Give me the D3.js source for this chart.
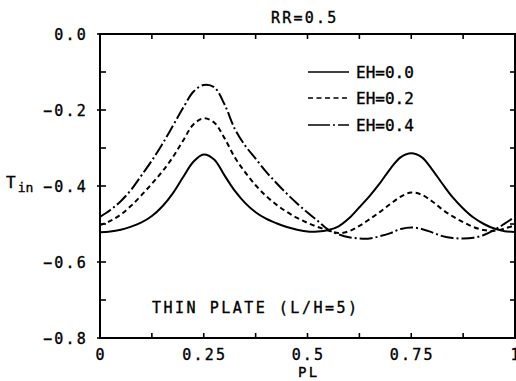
<!DOCTYPE html>
<html>
<head>
<meta charset="utf-8">
<script src="https://cdn.jsdelivr.net/npm/d3@7"></script>
<style>
  body { margin: 0; background: #fff; }
  svg { display: block; }
  text { font-family: "DejaVu Sans Mono", monospace; fill: #000; stroke: #000; stroke-width: 0.35px; }
</style>
</head>
<body>
<svg id="chart" width="516" height="381"></svg>
<script>
// PL positions, read every 0.025
const pl = [0, 0.025, 0.05, 0.075, 0.1, 0.125, 0.15, 0.175, 0.2, 0.225,
  0.25, 0.275, 0.3, 0.325, 0.35, 0.375, 0.4, 0.425, 0.45, 0.475,
  0.5, 0.525, 0.55, 0.575, 0.6, 0.625, 0.65, 0.675, 0.7, 0.725,
  0.75, 0.775, 0.8, 0.825, 0.85, 0.875, 0.9, 0.925, 0.95, 0.975, 1]

const eh00 = [-0.522, -0.520, -0.515, -0.507, -0.496, -0.479, -0.454, -0.420, -0.377, -0.336,
  -0.317, -0.330, -0.372, -0.413, -0.445, -0.469, -0.486, -0.498, -0.508, -0.515,
  -0.520, -0.520, -0.516, -0.506, -0.485, -0.456, -0.426, -0.392, -0.354, -0.324,
  -0.314, -0.324, -0.356, -0.394, -0.430, -0.459, -0.483, -0.500, -0.512, -0.519, -0.521]

const eh02 = [-0.503, -0.492, -0.475, -0.452, -0.424, -0.394, -0.362, -0.325, -0.281, -0.238,
  -0.222, -0.233, -0.274, -0.325, -0.364, -0.398, -0.426, -0.449, -0.468, -0.484,
  -0.497, -0.508, -0.517, -0.524, -0.519, -0.505, -0.487, -0.468, -0.447, -0.428,
  -0.417, -0.423, -0.440, -0.462, -0.480, -0.495, -0.508, -0.516, -0.518, -0.512, -0.503]

const eh04 = [-0.481, -0.463, -0.440, -0.410, -0.372, -0.333, -0.290, -0.243, -0.195, -0.152,
  -0.134, -0.140, -0.185, -0.250, -0.294, -0.328, -0.362, -0.392, -0.420, -0.446,
  -0.470, -0.492, -0.515, -0.527, -0.535, -0.538, -0.538, -0.532, -0.524, -0.513,
  -0.509, -0.513, -0.522, -0.532, -0.537, -0.538, -0.536, -0.529, -0.516, -0.499, -0.481]

const seriesNames = ['EH=0.0', 'EH=0.2', 'EH=0.4']
const xTickLabels = ['0', '0.25', '0.5', '0.75', '1']
const yTickLabels = ['0.0', '\u22120.2', '\u22120.4', '\u22120.6', '\u22120.8']

const xMajor = [0, 0.25, 0.5, 0.75, 1]
const xMinor = d3.range(0, 1.0001, 0.125)
const yMajor = [0, -0.2, -0.4, -0.6, -0.8]
const yMinor = d3.range(0, -0.8001, -0.1)

const svg = d3.select('#chart')

const x = d3.scaleLinear().domain([0, 1]).range([100, 515])
const y = d3.scaleLinear().domain([-0.8, 0]).range([338, 34])

const dashes = [null, '5,3.5', '13,3,2,3']
const series = [eh00, eh02, eh04]

// frame
svg.append('rect')
  .attr('x', x(0)).attr('y', y(0))
  .attr('width', x(1) - x(0)).attr('height', y(-0.8) - y(0))
  .attr('fill', 'none').attr('stroke', '#000').attr('stroke-width', 2)

// ticks, all pointing into the plot
const ticks = svg.append('g').attr('stroke', '#000').attr('stroke-width', 1.6)
ticks.selectAll('.tb').data(xMinor).join('line')
  .attr('x1', d => x(d)).attr('x2', d => x(d))
  .attr('y1', y(-0.8)).attr('y2', y(-0.8) - 5)
ticks.selectAll('.tt').data(xMinor).join('line')
  .attr('x1', d => x(d)).attr('x2', d => x(d))
  .attr('y1', y(0)).attr('y2', y(0) + 5)
ticks.selectAll('.tl').data(yMinor).join('line')
  .attr('x1', d => x(0) - (yMajor.some(m => Math.abs(m - d) < 1e-6) ? 3 : 0))
  .attr('x2', x(0) + 6)
  .attr('y1', d => y(d)).attr('y2', d => y(d))
ticks.selectAll('.tr').data(yMinor).join('line')
  .attr('x1', x(1)).attr('x2', x(1) - 5)
  .attr('y1', d => y(d)).attr('y2', d => y(d))

// tick labels
svg.append('g').selectAll('text').data(xMajor).join('text')
  .attr('x', d => x(d) + 1).attr('y', 360)
  .attr('text-anchor', 'middle')
  .style('font-size', '15px').style('letter-spacing', '2.2px')
  .text((d, i) => xTickLabels[i])

svg.append('g').selectAll('text').data(yMajor).join('text')
  .attr('x', 88).attr('y', d => y(d) + 6)
  .attr('text-anchor', 'end')
  .style('font-size', '15px').style('letter-spacing', '2.2px')
  .text((d, i) => yTickLabels[i])

// curves
const line = d3.line()
  .x((d, i) => x(pl[i]))
  .y(d => y(d))
  .curve(d3.curveCatmullRom.alpha(0.5))

svg.append('g').selectAll('path').data(series).join('path')
  .attr('d', d => line(d))
  .attr('fill', 'none')
  .attr('stroke', '#000')
  .attr('stroke-width', 2)
  .attr('stroke-dasharray', (d, i) => dashes[i])

// legend
const legend = svg.append('g')
const legY = [72, 98, 125]
legend.selectAll('line').data(seriesNames).join('line')
  .attr('x1', 308).attr('x2', 349)
  .attr('y1', (d, i) => legY[i]).attr('y2', (d, i) => legY[i])
  .attr('stroke', '#000').attr('stroke-width', 1.6)
  .attr('stroke-dasharray', (d, i) => i === 2 ? '22,3,2,3' : dashes[i])
legend.selectAll('text').data(seriesNames).join('text')
  .attr('x', 356).attr('y', (d, i) => legY[i] + 6)
  .style('font-size', '16px')
  .text(d => d)

// titles and labels
svg.append('text').attr('x', 271).attr('y', 23)
  .style('font-size', '15px').style('letter-spacing', '2.2px')
  .text('RR=0.5')

svg.append('text').attr('x', 298).attr('y', 377)
  .style('font-size', '14px').style('letter-spacing', '2.2px')
  .text('PL')

const tin = svg.append('text').attr('x', 6).attr('y', 188)
  .style('font-size', '16px')
tin.append('tspan').text('T')
tin.append('tspan').attr('dx', 2).attr('dy', 4).style('font-size', '13px').text('in')

svg.append('text').attr('x', 152).attr('y', 313)
  .style('font-size', '15px').style('letter-spacing', '2.5px')
  .text('THIN PLATE (L/H=5)')
</script>
</body>
</html>
